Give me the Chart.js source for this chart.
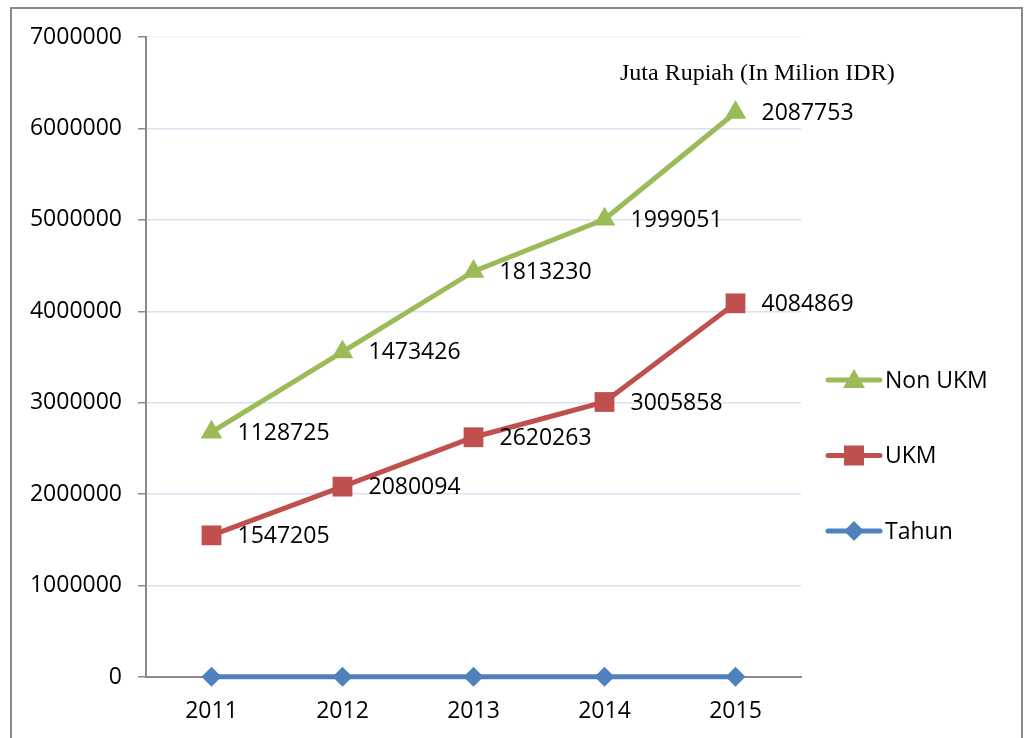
<!DOCTYPE html>
<html><head><meta charset="utf-8">
<script src="https://cdn.jsdelivr.net/npm/chart.js@4.4.1/dist/chart.umd.min.js"></script>
<style>
html,body{margin:0;padding:0;background:#fff;overflow:hidden}
#wrap{position:relative;width:1027px;height:738px}
#frame{position:absolute;left:10px;top:7px;width:1013px;height:740px;border:2px solid #8a8a8a;box-sizing:border-box;pointer-events:none}
canvas{position:absolute;left:0;top:0}
</style></head>
<body><div id="wrap"><canvas id="c" width="1027" height="738"></canvas><div id="frame"></div></div>
<script>
const years = ['2011','2012','2013','2014','2015'];
const tahun = [2011, 2012, 2013, 2014, 2015];
const ukm = [1547205, 2080094, 2620263, 3005858, 4084869];
const nonUkm = [1128725, 1473426, 1813230, 1999051, 2087753];
const yTicks = [0,1000000,2000000,3000000,4000000,5000000,6000000,7000000];
const unitTitle = 'Juta Rupiah (In Milion IDR)';

const GREEN='#9BBB59', RED='#C0504D', BLUE='#4F81BD';
const FONT='"Open Sans", sans-serif';

function marker(ctx, shape, x, y, color){
  ctx.save(); ctx.fillStyle=color; ctx.beginPath();
  if(shape==='triangle'){ ctx.moveTo(x,y-11); ctx.lineTo(x+11,y+8); ctx.lineTo(x-11,y+8); }
  else if(shape==='rect'){ ctx.rect(x-10,y-10,20,20); }
  else { ctx.moveTo(x,y-10); ctx.lineTo(x+10,y); ctx.lineTo(x,y+10); ctx.lineTo(x-10,y); }
  ctx.closePath(); ctx.fill(); ctx.restore();
}

const extras = {
  id:'extras',
  afterDatasetsDraw(chart){
    const ctx=chart.ctx;
    ctx.save();
    ctx.font='23px '+FONT; ctx.fillStyle='#000'; ctx.textAlign='left'; ctx.textBaseline='middle';
    [1,2].forEach(di=>{
      const meta=chart.getDatasetMeta(di);
      const vals=chart.data.datasets[di].data;
      meta.data.forEach((pt,i)=>{ ctx.fillText(String(vals[i]), pt.x+26, pt.y+1); });
    });
    // unit title
    ctx.font='24px "Liberation Serif", "Times New Roman", serif';
    ctx.fillText(unitTitle, 620, 74);
    // legend
    const items=[{l:'Non UKM',c:GREEN,s:'triangle'},{l:'UKM',c:RED,s:'rect'},{l:'Tahun',c:BLUE,s:'rectRot'}];
    const x0=chart.chartArea.right+25;
    items.forEach((it,k)=>{
      const y=380+k*75.5;
      ctx.strokeStyle=it.c; ctx.lineWidth=5; ctx.lineCap='round';
      ctx.beginPath(); ctx.moveTo(x0+2,y); ctx.lineTo(x0+54,y); ctx.stroke();
      marker(ctx,it.s,x0+28,y,it.c);
      ctx.font='23px '+FONT; ctx.fillStyle='#000';
      ctx.fillText(it.l, x0+59, y+1);
    });
    ctx.restore();
  }
};

new Chart(document.getElementById('c'),{
  type:'line',
  data:{labels:years,datasets:[
    {label:'Tahun',data:tahun,borderColor:BLUE,backgroundColor:BLUE,borderWidth:5,pointStyle:'rectRot',pointRadius:10,pointHoverRadius:10,pointBorderWidth:0,fill:false,tension:0,clip:false},
    {label:'UKM',data:ukm,borderColor:RED,backgroundColor:RED,borderWidth:5,pointStyle:'rect',pointRadius:14,pointHoverRadius:14,pointBorderWidth:0,fill:false,tension:0,clip:false},
    {label:'Non UKM',data:nonUkm,borderColor:GREEN,backgroundColor:GREEN,borderWidth:5,pointStyle:'triangle',pointRadius:12.5,pointHoverRadius:12.5,pointBorderWidth:0,fill:false,tension:0,clip:false}
  ]},
  options:{
    responsive:false,animation:false,
    layout:{padding:{left:0,right:226,top:37,bottom:0}},
    plugins:{legend:{display:false},tooltip:{enabled:false},title:{display:false}},
    scales:{
      x:{offset:true,grid:{display:false,drawTicks:false},border:{display:true,color:'#8a8a8a',width:2},
         ticks:{font:{family:FONT,size:23},color:'#000',padding:21},
         afterFit(s){s.height=61;}},
      y:{stacked:true,min:0,max:7000000,
         afterBuildTicks(s){s.ticks=yTicks.map(v=>({value:v}));},
         ticks:{font:{family:FONT,size:23},color:'#000',padding:16,callback:v=>String(v)},
         grid:{color:c=>c.index===7?'#f3f5fa':'#d9e1f2',lineWidth:1.5,tickColor:'#8a8a8a',tickLength:8,drawTicks:true},
         border:{display:true,color:'#8a8a8a',width:2},
         afterFit(s){s.width=146;}}
    }
  },
  plugins:[extras]
});
</script></body></html>
